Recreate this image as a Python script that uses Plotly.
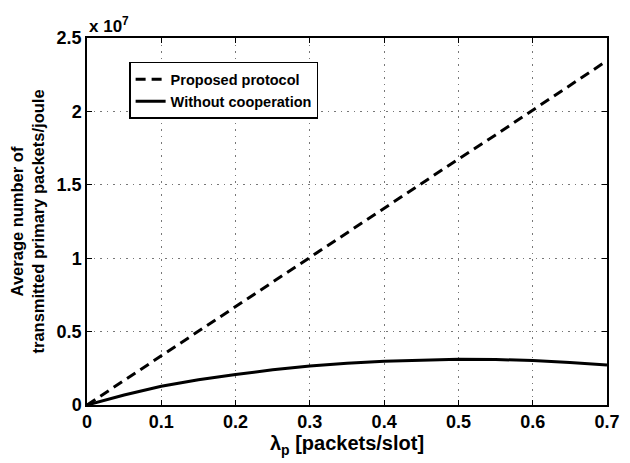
import plotly.graph_objects as go

x_vals = [0, 0.05, 0.1, 0.15, 0.2, 0.25, 0.3, 0.35, 0.4, 0.45, 0.5, 0.55, 0.6, 0.65, 0.7]
proposed = [0, 0.168e7, 0.335e7, 0.503e7, 0.67e7, 0.838e7, 1.005e7, 1.17e7, 1.34e7,
            1.51e7, 1.675e7, 1.84e7, 2.01e7, 2.18e7, 2.345e7]
without_coop = [0, 0.068e7, 0.128e7, 0.172e7, 0.207e7, 0.24e7, 0.266e7, 0.285e7, 0.298e7,
                0.307e7, 0.311e7, 0.31e7, 0.303e7, 0.29e7, 0.272e7]

x_ticks = [0, 0.1, 0.2, 0.3, 0.4, 0.5, 0.6, 0.7]
x_ticktext = ["0", "0.1", "0.2", "0.3", "0.4", "0.5", "0.6", "0.7"]
y_ticks = [0, 0.5e7, 1e7, 1.5e7, 2e7, 2.5e7]
y_ticktext = ["0", "0.5", "1", "1.5", "2", "2.5"]

FONT = "Liberation Sans, Arial, sans-serif"

fig = go.Figure()
fig.add_trace(go.Scatter(x=x_vals, y=proposed, mode="lines", name="Proposed protocol",
                         line=dict(color="black", width=3, dash="10px,6px")))
fig.add_trace(go.Scatter(x=x_vals, y=without_coop, mode="lines", name="Without cooperation",
                         line=dict(color="black", width=3)))

axis_common = dict(showline=True, linecolor="black", linewidth=1.5, mirror="ticks",
                   ticks="inside", ticklen=5, tickcolor="black",
                   showgrid=True, gridcolor="#777777", griddash="1.5px,5px", gridwidth=1,
                   zeroline=False,
                   tickfont=dict(family=FONT, size=18, color="black", weight="bold"))

fig.update_xaxes(range=[0, 0.7], tickvals=x_ticks, ticktext=x_ticktext,
                 title=dict(text="<b>λ<sub>p</sub> [packets/slot]</b>", standoff=4,
                            font=dict(family=FONT, size=20, color="black")),
                 **axis_common)
fig.update_yaxes(range=[0, 2.5e7], tickvals=y_ticks, ticktext=y_ticktext,
                 title=dict(text="<b>Average number of<br>transmitted primary packets/joule</b>",
                            standoff=12, font=dict(family=FONT, size=16.5, color="black")),
                 **axis_common)

fig.add_annotation(text="<b>x 10<sup>7</sup></b>", xref="paper", yref="paper",
                   x=0.0, y=1.0, xanchor="left", yanchor="bottom", showarrow=False,
                   font=dict(family=FONT, size=17, color="black"))

fig.update_layout(
    width=622, height=455,
    margin=dict(l=79, r=23, t=30, b=58, autoexpand=False),
    plot_bgcolor="white", paper_bgcolor="white",
    font=dict(family=FONT, size=16, color="black"),
    legend=dict(x=0.081, y=0.935, xanchor="left", yanchor="top",
                bgcolor="white", bordercolor="black", borderwidth=1.5,
                font=dict(family=FONT, size=14.5, color="black", weight="bold"),
                tracegroupgap=2),
    showlegend=True,
)

fig.write_html("out.html")
